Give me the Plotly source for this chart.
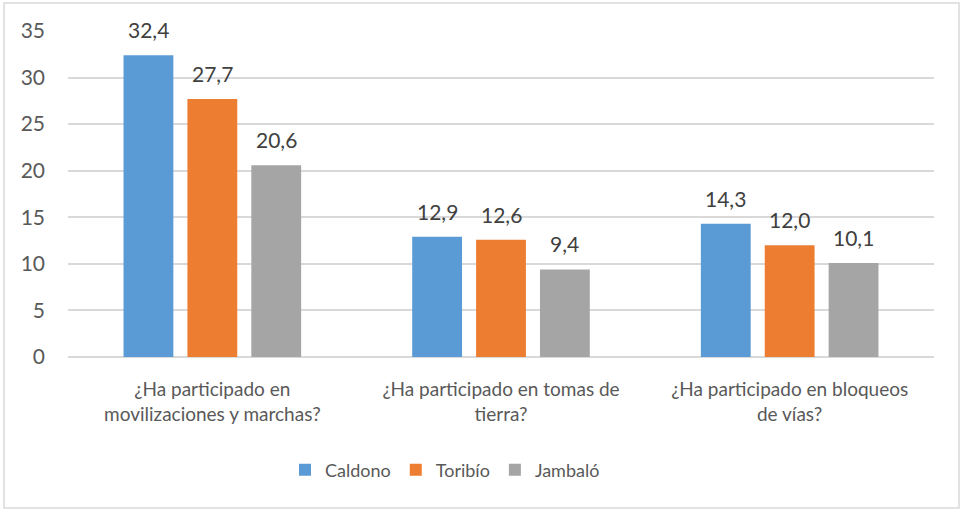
import plotly.graph_objects as go

categories = ["¿Ha participado en<br>movilizaciones y marchas?",
              "¿Ha participado en tomas de<br>tierra?",
              "¿Ha participado en bloqueos<br>de vías?"]
series_names = ["Caldono", "Toribío", "Jambaló"]
caldono = [32.4, 12.9, 14.3]
toribio = [27.7, 12.6, 12.0]
jambalo = [20.6, 9.4, 10.1]
y_ticks = [0, 5, 10, 15, 20, 25, 30, 35]

colors = ["#5B9BD5", "#ED7D31", "#A5A5A5"]
FONT = "Lato, sans-serif"
FS = 21
FS_CAT = 19
FS_LEG = 18

W, H = 964, 510
ML, MR, MT, MB = 68, 30, 31, 153
BARGAP, GROUPGAP = 0.336, 0.22

fig = go.Figure()
all_vals = [caldono, toribio, jambalo]
for name, vals, col in zip(series_names, all_vals, colors):
    fig.add_trace(go.Bar(
        x=categories, y=vals, name=name, marker_color=col,
        marker_line_width=0,
    ))

# data labels above bars
plot_w = W - ML - MR
plot_h = H - MT - MB
slot = plot_w / len(categories) * (1 - BARGAP) / len(series_names)
annotations = []
for i, vals in enumerate(all_vals):
    for cat, v in zip(categories, vals):
        annotations.append(dict(
            x=cat, y=v, xref="x", yref="y", text=f"{v:.1f}".replace(".", ","),
            showarrow=False, xanchor="center", yanchor="bottom",
            xshift=(i - 1) * slot, yshift=11,
            font=dict(family=FONT, size=FS, color="#404040"),
        ))

fig.update_layout(
    width=W, height=H,
    margin=dict(l=ML, r=MR, t=MT, b=MB),
    paper_bgcolor="white", plot_bgcolor="white",
    barmode="group", bargap=BARGAP, bargroupgap=GROUPGAP,
    font=dict(family=FONT, size=FS, color="#595959"),
    showlegend=True,
    legend=dict(orientation="h", x=(445 - ML) / plot_w, xanchor="center",
                y=(H - MB - 470) / plot_h, yanchor="middle",
                font=dict(family=FONT, size=FS_LEG, color="#595959"),
                itemwidth=30, traceorder="normal"),
    yaxis=dict(range=[0, 35], tickvals=y_ticks, showgrid=True, gridcolor="#D9D9D9",
               gridwidth=1.5, zeroline=True, zerolinecolor="#D9D9D9", zerolinewidth=1.5,
               ticks="", showline=False, tickfont=dict(size=FS, color="#595959"),
               ticklabelstandoff=22),
    xaxis=dict(showgrid=False, ticks="", showline=False,
               tickfont=dict(size=FS_CAT, color="#595959"), ticklabelstandoff=19),
    annotations=annotations,
    shapes=[dict(type="rect", xref="paper", yref="paper",
                 x0=(4 - ML) / plot_w, x1=(959 - ML) / plot_w,
                 y0=(H - MB - 508) / plot_h, y1=(H - MB - 3) / plot_h,
                 line=dict(color="#D9D9D9", width=1.5), fillcolor="rgba(0,0,0,0)",
                 layer="below")],
)

fig.write_html("out.html", config={"displayModeBar": False},
               post_script="document.body.style.margin='0';")
